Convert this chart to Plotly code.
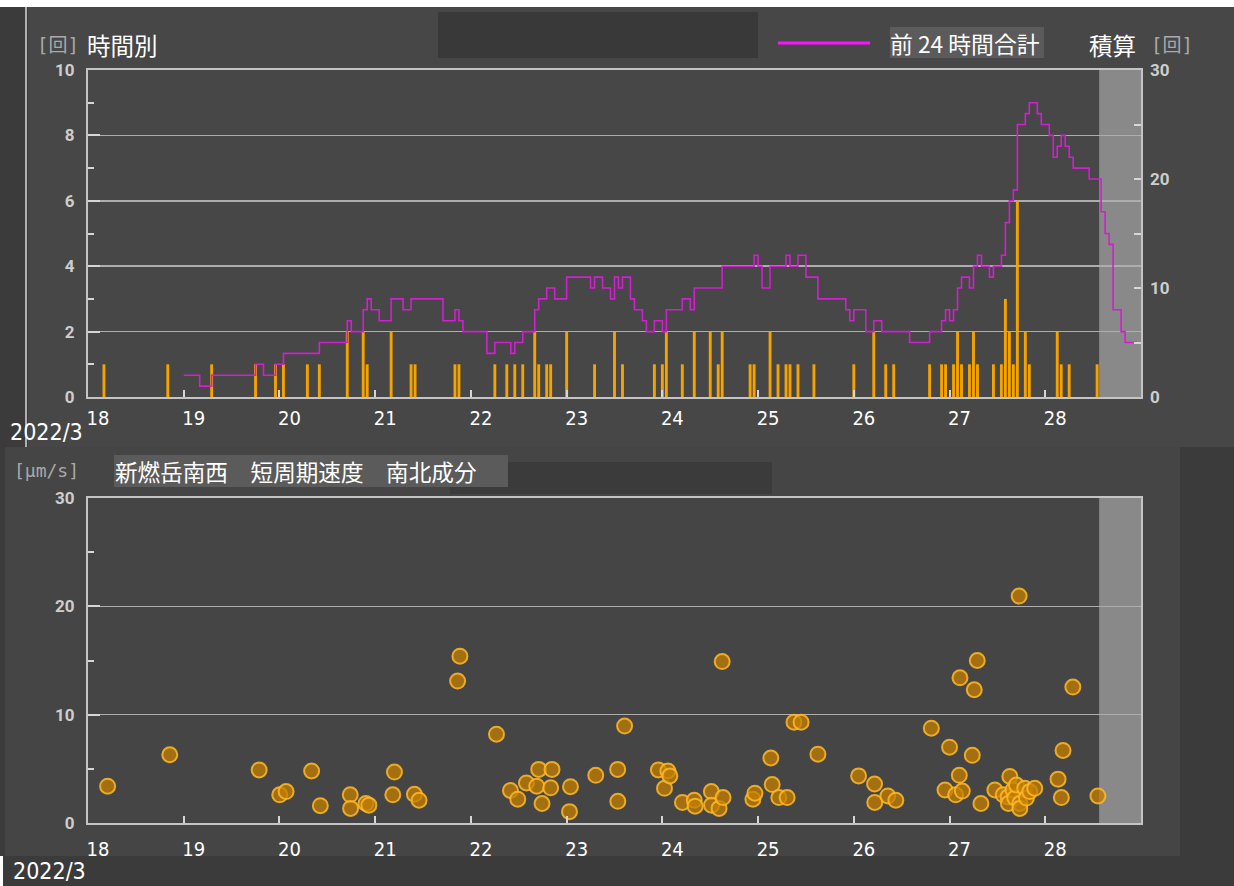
import plotly.graph_objects as go

W, H = 1234, 886

# ---------------- data ----------------
# hourly event counts (時間別)
bar_times = [
    "2022-03-18 04:00", "2022-03-18 20:00", "2022-03-19 07:00", "2022-03-19 18:00",
    "2022-03-19 23:00", "2022-03-20 01:00", "2022-03-20 07:00", "2022-03-20 10:00",
    "2022-03-20 17:00", "2022-03-20 21:00", "2022-03-20 22:00", "2022-03-21 04:00",
    "2022-03-21 09:00", "2022-03-21 10:00", "2022-03-21 20:00", "2022-03-21 21:00",
    "2022-03-22 06:00", "2022-03-22 09:00", "2022-03-22 11:00", "2022-03-22 13:00",
    "2022-03-22 16:00", "2022-03-22 17:00", "2022-03-22 19:00", "2022-03-22 20:00",
    "2022-03-23 00:00", "2022-03-23 07:00", "2022-03-23 12:00", "2022-03-23 14:00",
    "2022-03-23 22:00", "2022-03-24 00:00", "2022-03-24 01:00", "2022-03-24 05:00",
    "2022-03-24 08:00", "2022-03-24 12:00", "2022-03-24 14:00", "2022-03-24 15:00",
    "2022-03-24 22:00", "2022-03-24 23:00", "2022-03-25 03:00", "2022-03-25 05:00",
    "2022-03-25 07:00", "2022-03-25 08:00", "2022-03-25 10:00", "2022-03-25 14:00",
    "2022-03-26 00:00", "2022-03-26 05:00", "2022-03-26 08:00", "2022-03-26 10:00",
    "2022-03-26 19:00", "2022-03-26 22:00", "2022-03-26 23:00", "2022-03-27 01:00",
    "2022-03-27 02:00", "2022-03-27 03:00", "2022-03-27 05:00", "2022-03-27 06:00",
    "2022-03-27 07:00", "2022-03-27 11:00", "2022-03-27 13:00", "2022-03-27 14:00",
    "2022-03-27 15:00", "2022-03-27 16:00", "2022-03-27 17:00", "2022-03-27 19:00",
    "2022-03-27 20:00", "2022-03-28 03:00", "2022-03-28 04:00", "2022-03-28 06:00",
    "2022-03-28 13:00",
]
bar_counts = [
    1, 1, 1, 1,
    1, 1, 1, 1,
    2, 2, 1, 2,
    1, 1, 1, 1,
    1, 1, 1, 1,
    2, 1, 1, 1,
    2, 1, 2, 1,
    1, 1, 2, 1,
    2, 2, 1, 2,
    1, 1, 2, 1,
    1, 1, 1, 1,
    1, 2, 1, 1,
    1, 1, 1, 1,
    2, 1, 1, 2,
    1, 1, 1, 3,
    2, 1, 6, 2,
    1, 2, 1, 1,
    1,
]

# 前24時間合計 (step line, right axis) - change points
line_times = [
    "2022-03-19 00:00", "2022-03-19 04:00", "2022-03-19 07:00", "2022-03-19 18:00",
    "2022-03-19 20:00", "2022-03-19 23:00", "2022-03-20 01:00", "2022-03-20 10:00",
    "2022-03-20 17:00", "2022-03-20 18:00", "2022-03-20 21:00", "2022-03-20 22:00",
    "2022-03-20 23:00", "2022-03-21 01:00", "2022-03-21 04:00", "2022-03-21 07:00",
    "2022-03-21 09:00", "2022-03-21 17:00", "2022-03-21 20:00", "2022-03-21 21:00",
    "2022-03-21 22:00", "2022-03-22 04:00", "2022-03-22 06:00", "2022-03-22 10:00",
    "2022-03-22 11:00", "2022-03-22 13:00", "2022-03-22 16:00", "2022-03-22 17:00",
    "2022-03-22 19:00", "2022-03-22 21:00", "2022-03-23 00:00", "2022-03-23 06:00",
    "2022-03-23 07:00", "2022-03-23 09:00", "2022-03-23 11:00", "2022-03-23 12:00",
    "2022-03-23 13:00", "2022-03-23 14:00", "2022-03-23 16:00", "2022-03-23 17:00",
    "2022-03-23 19:00", "2022-03-23 20:00", "2022-03-23 22:00", "2022-03-24 00:00",
    "2022-03-24 01:00", "2022-03-24 05:00", "2022-03-24 07:00", "2022-03-24 08:00",
    "2022-03-24 15:00", "2022-03-24 23:00", "2022-03-25 00:00", "2022-03-25 01:00",
    "2022-03-25 03:00", "2022-03-25 07:00", "2022-03-25 08:00", "2022-03-25 10:00",
    "2022-03-25 12:00", "2022-03-25 15:00", "2022-03-25 22:00", "2022-03-25 23:00",
    "2022-03-26 00:00", "2022-03-26 03:00", "2022-03-26 05:00", "2022-03-26 07:00",
    "2022-03-26 14:00", "2022-03-26 19:00", "2022-03-26 22:00", "2022-03-26 23:00",
    "2022-03-27 00:00", "2022-03-27 01:00", "2022-03-27 02:00", "2022-03-27 03:00",
    "2022-03-27 05:00", "2022-03-27 06:00", "2022-03-27 07:00", "2022-03-27 08:00",
    "2022-03-27 10:00", "2022-03-27 11:00", "2022-03-27 13:00", "2022-03-27 14:00",
    "2022-03-27 15:00", "2022-03-27 16:00", "2022-03-27 17:00", "2022-03-27 19:00",
    "2022-03-27 20:00", "2022-03-27 22:00", "2022-03-27 23:00", "2022-03-28 01:00",
    "2022-03-28 02:00", "2022-03-28 03:00", "2022-03-28 04:00", "2022-03-28 05:00",
    "2022-03-28 06:00", "2022-03-28 07:00", "2022-03-28 11:00", "2022-03-28 14:00",
    "2022-03-28 15:00", "2022-03-28 16:00", "2022-03-28 17:00", "2022-03-28 19:00",
    "2022-03-28 20:00", "2022-03-28 23:00",
]
line_totals = [
    2, 1, 2, 3,
    2, 3, 4, 5,
    7, 6, 8, 9,
    8, 7, 9, 8,
    9, 7, 8, 7,
    6, 4, 5, 4,
    5, 6, 8, 9,
    10, 9, 11, 10,
    11, 10, 9, 11,
    10, 11, 9, 8,
    7, 6, 7, 6,
    8, 9, 8, 10,
    12, 13, 12, 10,
    12, 13, 12, 13,
    11, 9, 8, 7,
    8, 6, 7, 6,
    5, 6, 7, 8,
    7, 8, 10, 11,
    10, 12, 13, 12,
    11, 12, 13, 16,
    18, 19, 25, 26,
    27, 26, 25, 24,
    22, 23, 24, 23,
    22, 21, 20, 17,
    15, 14, 8, 6,
    5, 5,
]

# 新燃岳南西 短周期速度 南北成分 (μm/s)
amp_times = [
    "2022-03-18 04:55", "2022-03-18 20:30", "2022-03-19 18:55", "2022-03-20 00:04",
    "2022-03-20 01:40", "2022-03-20 08:04", "2022-03-20 10:15", "2022-03-20 17:45",
    "2022-03-20 17:50", "2022-03-20 21:40", "2022-03-20 22:25", "2022-03-21 04:25",
    "2022-03-21 04:50", "2022-03-21 09:50", "2022-03-21 11:00", "2022-03-21 20:40",
    "2022-03-21 21:15", "2022-03-22 06:25", "2022-03-22 09:55", "2022-03-22 11:45",
    "2022-03-22 13:55", "2022-03-22 16:30", "2022-03-22 17:00", "2022-03-22 17:50",
    "2022-03-22 20:00", "2022-03-22 20:20", "2022-03-23 00:58", "2022-03-23 00:43",
    "2022-03-23 07:18", "2022-03-23 12:48", "2022-03-23 12:50", "2022-03-23 14:32",
    "2022-03-23 23:00", "2022-03-24 00:32", "2022-03-24 01:23", "2022-03-24 01:53",
    "2022-03-24 05:02", "2022-03-24 08:00", "2022-03-24 08:13", "2022-03-24 12:17",
    "2022-03-24 12:20", "2022-03-24 14:13", "2022-03-24 15:13", "2022-03-24 15:00",
    "2022-03-24 22:42", "2022-03-24 23:12", "2022-03-25 03:12", "2022-03-25 03:32",
    "2022-03-25 05:12", "2022-03-25 07:17", "2022-03-25 09:00", "2022-03-25 10:47",
    "2022-03-25 15:00", "2022-03-26 01:12", "2022-03-26 05:12", "2022-03-26 05:15",
    "2022-03-26 08:32", "2022-03-26 10:32", "2022-03-26 19:26", "2022-03-26 22:52",
    "2022-03-27 00:00", "2022-03-27 01:32", "2022-03-27 02:27", "2022-03-27 02:37",
    "2022-03-27 03:12", "2022-03-27 05:42", "2022-03-27 06:12", "2022-03-27 06:57",
    "2022-03-27 07:52", "2022-03-27 11:22", "2022-03-27 13:27", "2022-03-27 14:41",
    "2022-03-27 14:45", "2022-03-27 15:07", "2022-03-27 15:55", "2022-03-27 16:22",
    "2022-03-27 16:46", "2022-03-27 17:27", "2022-03-27 17:37", "2022-03-27 17:38",
    "2022-03-27 18:52", "2022-03-27 19:17", "2022-03-27 20:07", "2022-03-27 21:22",
    "2022-03-28 03:12", "2022-03-28 04:02", "2022-03-28 04:27", "2022-03-28 06:55",
    "2022-03-28 13:12",
]
amp_values = [
    3.4, 6.3, 4.9, 2.6,
    2.9, 4.8, 1.6, 2.6,
    1.35, 1.8, 1.65, 2.6,
    4.7, 2.65, 2.1, 13.1,
    15.4, 8.2, 3.0, 2.2,
    3.7, 3.4, 4.95, 1.8,
    3.25, 4.95, 3.35, 1.05,
    4.4, 4.95, 2.0, 8.95,
    4.9, 3.2, 4.8, 4.35,
    1.9, 2.1, 1.55, 2.9,
    1.65, 1.35, 2.35, 14.9,
    2.2, 2.75, 6.0, 3.55,
    2.35, 2.35, 9.3, 9.3,
    6.35, 4.35, 3.6, 1.9,
    2.5, 2.1, 8.75, 3.05,
    7.0, 2.6, 4.4, 13.4,
    2.95, 6.25, 12.3, 15.0,
    1.8, 3.05, 2.6, 2.4,
    1.8, 4.3, 3.05, 2.3,
    3.5, 20.95, 1.8, 1.35,
    3.2, 2.3, 2.9, 3.2,
    4.05, 2.35, 6.7, 12.55,
    2.5,
]

day_ticks = ["2022-03-18", "2022-03-19", "2022-03-20", "2022-03-21", "2022-03-22",
             "2022-03-23", "2022-03-24", "2022-03-25", "2022-03-26", "2022-03-27",
             "2022-03-28"]
day_labels = ["18", "19", "20", "21", "22", "23", "24", "25", "26", "27", "28"]
x_start, x_end = "2022-03-18 00:00", "2022-03-29 00:00"
shade_start = "2022-03-28 13:30"

left_ticks_top = [0, 2, 4, 6, 8, 10]
left_minor_top = [1, 3, 5, 7, 9]
right_ticks_top = [0, 10, 20, 30]
right_minor_top = [5, 15, 25]
ticks_bottom = [0, 10, 20, 30]
minor_bottom = [5, 15, 25]

# ---------------- style ----------------
NUM_FONT = "Liberation Sans Narrow, DejaVu Sans Condensed, Roboto, sans-serif"
YTICK_FONT = "Roboto, DejaVu Sans, sans-serif"
JP_FONT = "Noto Sans CJK JP"
UNIT_FONT = "DejaVu Sans Mono, Noto Sans CJK JP"
AXIS_COL = "#c4c4c4"
GRID_COL = "#adadad"
TICK_COL = "#d6d6d6"


def px(x):
    return x / W


def py(y):
    return 1 - y / H


fig = go.Figure()

fig.add_trace(go.Bar(
    x=bar_times, y=bar_counts, xaxis="x", yaxis="y",
    width=2.6e6, marker=dict(color="#f5a300", line=dict(width=0)),
    showlegend=False, hoverinfo="skip",
))
fig.add_trace(go.Scatter(
    x=line_times, y=line_totals, xaxis="x", yaxis="y2", mode="lines",
    line=dict(shape="hv", color="#d21fd2", width=1.6),
    showlegend=False, hoverinfo="skip",
))
fig.add_trace(go.Scatter(
    x=amp_times, y=amp_values, xaxis="x2", yaxis="y3", mode="markers",
    marker=dict(size=15, color="rgba(195,126,0,0.75)",
                line=dict(color="rgba(255,186,40,0.85)", width=2)),
    showlegend=False, hoverinfo="skip",
))

xdom = [px(88), px(1141)]
top_dom = [py(397), py(70)]
bot_dom = [py(823), py(498)]


def xaxis_cfg(anchor, standoff):
    return dict(
        type="date", domain=xdom, range=[x_start, x_end], anchor=anchor,
        showgrid=False, zeroline=False, showline=True, linecolor=AXIS_COL,
        linewidth=2, mirror=True, ticks="inside", ticklen=7, tickwidth=2,
        tickcolor=TICK_COL, tickmode="array", tickvals=day_ticks, ticktext=day_labels,
        tickfont=dict(family=NUM_FONT, size=20, color="#ffffff"),
        ticklabelshift=10, ticklabelstandoff=standoff, fixedrange=True,
        automargin=False,
    )


def yaxis_cfg(domain, rng, tickvals, minor_vals, grid, ticklen, minor_len, anchor):
    return dict(
        domain=domain, range=rng, anchor=anchor,
        tickmode="array", tickvals=tickvals, ticks="inside", ticklen=ticklen,
        tickwidth=2, tickcolor=TICK_COL,
        minor=dict(tickmode="array", tickvals=minor_vals, ticks="inside",
                   ticklen=minor_len, tickwidth=2, tickcolor=TICK_COL, showgrid=False),
        showgrid=grid, gridcolor=GRID_COL, gridwidth=1.6, zeroline=False,
        showline=True, mirror=True, linecolor=AXIS_COL, linewidth=2,
        tickfont=dict(family=YTICK_FONT, size=17, color="#cdcdcd", weight="bold"),
        ticklabelstandoff=8, fixedrange=True, automargin=False,
    )


y1 = yaxis_cfg(top_dom, [0, 10], left_ticks_top, left_minor_top, True, 12, 6, "x")
y2 = dict(
    overlaying="y", side="right", anchor="x", range=[0, 30],
    tickmode="array", tickvals=right_ticks_top, ticks="inside", ticklen=7,
    tickwidth=2, tickcolor=TICK_COL,
    minor=dict(tickmode="array", tickvals=right_minor_top, ticks="inside",
               ticklen=7, tickwidth=2, tickcolor=TICK_COL, showgrid=False),
    showgrid=False, zeroline=False, showline=False,
    tickfont=dict(family=YTICK_FONT, size=17, color="#cdcdcd", weight="bold"),
    ticklabelstandoff=8, fixedrange=True, automargin=False,
)
y3 = yaxis_cfg(bot_dom, [0, 30], ticks_bottom, minor_bottom, True, 12, 6, "x2")


def rect(x0, y0, x1, y1_, color, layer="below"):
    return dict(type="rect", xref="paper", yref="paper", x0=px(x0), x1=px(x1),
                y0=py(y1_), y1=py(y0), fillcolor=color, line=dict(width=0), layer=layer)


shapes = [
    rect(0, 0, W, 7, "#ffffff"),
    rect(28, 7, W, 447, "#474747"),
    rect(5, 447, 1180, 856, "#454545"),
    rect(0, 856, 3, H, "#ffffff"),
    rect(438, 12, 758, 58, "#393939"),
    rect(890, 27, 1044, 58, "#5b5b5b"),
    rect(450, 462, 772, 494, "#3b3b3b"),
    rect(114, 455, 508, 487, "#5b5b5b"),
    dict(type="line", xref="paper", yref="paper", x0=px(26), x1=px(26),
         y0=py(447), y1=py(7), line=dict(color="#ffffff", width=1.2), layer="above"),
    dict(type="line", xref="paper", yref="paper", x0=px(778), x1=px(870),
         y0=py(43), y1=py(43), line=dict(color="#ff10ff", width=3), layer="above"),
    dict(type="rect", xref="x", yref="y domain", x0=shade_start, x1=x_end,
         y0=0, y1=1, fillcolor="#898989", line=dict(width=0), layer="below"),
    dict(type="rect", xref="x2", yref="y3 domain", x0=shade_start, x1=x_end,
         y0=0, y1=1, fillcolor="#898989", line=dict(width=0), layer="below"),
]


def label(text, x, y, size, color, family):
    return dict(text=text, xref="paper", yref="paper", x=px(x), y=py(y),
                xanchor="left", yanchor="middle", showarrow=False,
                font=dict(family=family, size=size, color=color), borderpad=0)


annotations = [
    label("[回]", 36, 45, 19, "#a9a9a9", UNIT_FONT),
    label("時間別", 86, 45, 23.5, "#ffffff", JP_FONT),
    label("前 24 時間合計", 889, 43, 22.8, "#ffffff", JP_FONT),
    label("積算", 1088, 45, 23.5, "#ffffff", JP_FONT),
    label("[回]", 1150, 45, 19, "#a9a9a9", UNIT_FONT),
    label("[μm/s]", 13, 470, 18, "#a9a9a9", UNIT_FONT),
    label("新燃岳南西　短周期速度　南北成分", 114, 471, 22.6, "#ffffff", JP_FONT),
    label("2022/3", 9, 432, 23, "#ffffff", NUM_FONT),
    label("2022/3", 12, 871, 23, "#ffffff", NUM_FONT),
]

fig.update_layout(
    width=W, height=H, autosize=False, margin=dict(l=0, r=0, t=0, b=0, pad=0, autoexpand=False),
    paper_bgcolor="#3b3b3b", plot_bgcolor="#3d3d3d",
    xaxis=xaxis_cfg("y", 2), yaxis=y1, yaxis2=y2,
    xaxis2=xaxis_cfg("y3", 7), yaxis3=y3,
    shapes=shapes, annotations=annotations,
    showlegend=False, hovermode=False,
)

fig.write_html(
    "out.html",
    config={"displayModeBar": False, "staticPlot": True},
    post_script="document.body.style.margin='0';document.body.style.overflow='hidden';",
)
